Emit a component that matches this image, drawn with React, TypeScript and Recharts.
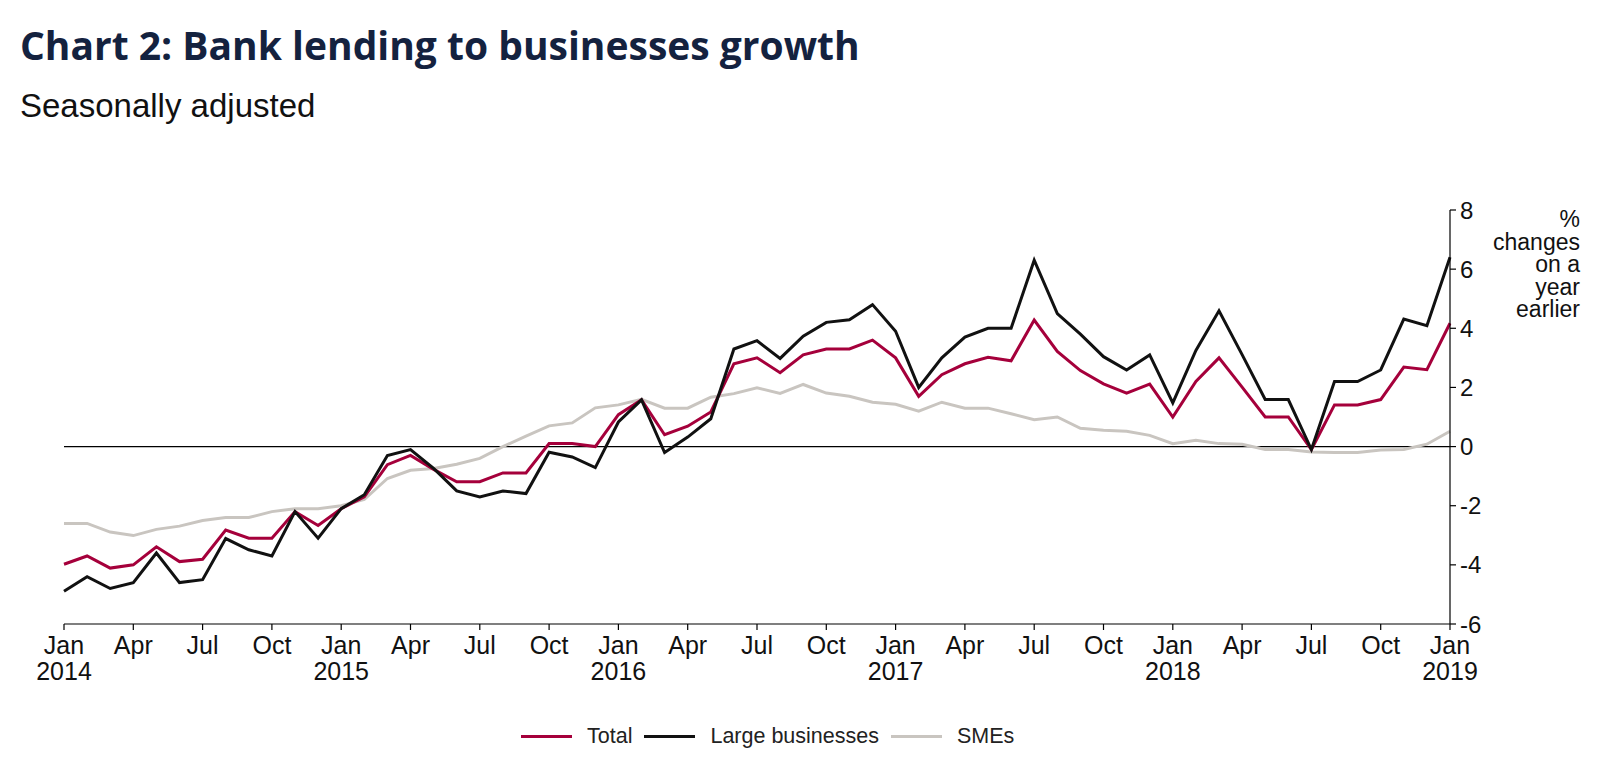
import React from 'react';
import { LineChart, Line, XAxis, YAxis, ReferenceLine } from 'recharts';

// monthly, Jan 2014 .. Jan 2019, % changes on a year earlier
const MONTHS = ['Jan', 'Feb', 'Mar', 'Apr', 'May', 'Jun', 'Jul', 'Aug', 'Sep', 'Oct', 'Nov', 'Dec'];
const YEARS = [2014, 2015, 2016, 2017, 2018, 2019];

const total = [
  -3.98, -3.7, -4.11, -4.0, -3.39, -3.89, -3.81, -2.82, -3.1, -3.1, -2.2, -2.67,
  -2.1, -1.7, -0.61, -0.3, -0.77, -1.19, -1.19, -0.89, -0.89, 0.1, 0.1, 0.0,
  1.08, 1.58, 0.4, 0.69, 1.17, 2.8, 3.0, 2.5, 3.1, 3.3, 3.3, 3.6,
  3.0, 1.7, 2.43, 2.8, 3.02, 2.9, 4.28, 3.22, 2.57, 2.12, 1.81, 2.11,
  1.0, 2.2, 3.0, 2.01, 1.0, 1.0, -0.1, 1.41, 1.41, 1.59, 2.69, 2.6,
  4.17,
];

const large = [
  -4.89, -4.4, -4.8, -4.6, -3.6, -4.6, -4.5, -3.11, -3.49, -3.7, -2.2, -3.1,
  -2.1, -1.63, -0.3, -0.1, -0.74, -1.5, -1.7, -1.5, -1.59, -0.19, -0.35, -0.71,
  0.83, 1.58, -0.2, 0.32, 0.94, 3.3, 3.58, 2.98, 3.73, 4.2, 4.29, 4.8,
  3.9, 2.0, 3.0, 3.7, 4.0, 4.0, 6.3, 4.5, 3.8, 3.04, 2.59, 3.1,
  1.48, 3.25, 4.59, 3.11, 1.59, 1.59, -0.1, 2.2, 2.2, 2.59, 4.31, 4.09,
  6.4,
];

const smes = [
  -2.6, -2.6, -2.89, -3.01, -2.8, -2.69, -2.5, -2.4, -2.4, -2.2, -2.1, -2.1,
  -2.0, -1.79, -1.08, -0.8, -0.74, -0.6, -0.4, 0.0, 0.35, 0.7, 0.8, 1.31,
  1.41, 1.6, 1.3, 1.3, 1.67, 1.79, 1.99, 1.8, 2.1, 1.81, 1.7, 1.5,
  1.43, 1.2, 1.5, 1.3, 1.3, 1.11, 0.91, 1.0, 0.62, 0.55, 0.52, 0.38,
  0.1, 0.21, 0.1, 0.08, -0.1, -0.1, -0.18, -0.2, -0.2, -0.12, -0.1, 0.08,
  0.52,
];

const yTicks = [-6, -4, -2, 0, 2, 4, 6, 8];

const RED = '#a5003b';
const BLACK = '#111111';
const GREY = '#c9c5c0';
const FONT = '"Liberation Sans", Arial, sans-serif';

const monthLabels: string[] = [];
YEARS.forEach(yr => MONTHS.forEach(m => monthLabels.push(`${m} ${yr}`)));

const data = total.map((v, i) => ({
  month: monthLabels[i],
  total: v,
  large: large[i],
  smes: smes[i],
}));

const MonthTick = ({ x, y, payload }: any) => {
  const [mon, yr] = String(payload.value).split(' ');
  return (
    <g transform={`translate(${x},${y})`}>
      <text textAnchor="middle" fontSize={25} fill="#111" fontFamily={FONT}>
        <tspan x={0} dy={22}>{mon}</tspan>
        {mon === 'Jan' && <tspan x={0} dy={26}>{yr}</tspan>}
      </text>
    </g>
  );
};

const legendItems = [
  { name: 'Total', color: RED },
  { name: 'Large businesses', color: BLACK },
  { name: 'SMEs', color: GREY },
];

export default function App() {
  return (
    <div style={{ position: 'absolute', left: 0, top: 0, width: 1600, height: 773, background: '#fff', fontFamily: FONT }}>
      <div style={{ position: 'absolute', left: 20, top: 18, fontFamily: '"Open Sans", sans-serif', fontWeight: 700, fontSize: 39, color: '#14223f', whiteSpace: 'nowrap' }}>
        Chart 2: Bank lending to businesses growth
      </div>
      <div style={{ position: 'absolute', left: 20, top: 87, fontSize: 33, color: '#111', whiteSpace: 'nowrap' }}>
        Seasonally adjusted
      </div>
      <div style={{ position: 'absolute', right: 20, top: 208, fontSize: 23, lineHeight: '22.5px', textAlign: 'right', color: '#111' }}>
        %<br />changes<br />on a<br />year<br />earlier
      </div>

      <LineChart width={1600} height={773} data={data} margin={{ top: 210, right: 90, left: 64, bottom: 89 }}>
        <XAxis
          dataKey="month"
          interval={2}
          height={60}
          tickSize={6}
          tickMargin={2}
          axisLine={{ stroke: '#000', strokeWidth: 1.2 }}
          tickLine={{ stroke: '#000', strokeWidth: 1.2 }}
          tick={<MonthTick />}
        />
        <YAxis
          orientation="right"
          width={60}
          domain={[-6, 8]}
          ticks={yTicks}
          tickSize={6}
          tickMargin={4}
          axisLine={{ stroke: '#000', strokeWidth: 1.2 }}
          tickLine={{ stroke: '#000', strokeWidth: 1.2 }}
          tick={{ fontSize: 24, fill: '#111', fontFamily: FONT }}
        />
        <ReferenceLine y={0} stroke="#000" strokeWidth={1.2} />
        <Line type="linear" dataKey="smes" stroke={GREY} strokeWidth={3} dot={false} isAnimationActive={false} />
        <Line type="linear" dataKey="total" stroke={RED} strokeWidth={3} dot={false} isAnimationActive={false} />
        <Line type="linear" dataKey="large" stroke={BLACK} strokeWidth={3} dot={false} isAnimationActive={false} />
      </LineChart>

      <div style={{ position: 'absolute', left: 521, top: 724, height: 24, display: 'flex', alignItems: 'center', fontSize: 21.5, color: '#222' }}>
        {legendItems.map(item => (
          <div key={item.name} style={{ display: 'flex', alignItems: 'center', marginRight: 12 }}>
            <div style={{ width: 51, height: 3, background: item.color, marginRight: 15 }} />
            <span>{item.name}</span>
          </div>
        ))}
      </div>
    </div>
  );
}
